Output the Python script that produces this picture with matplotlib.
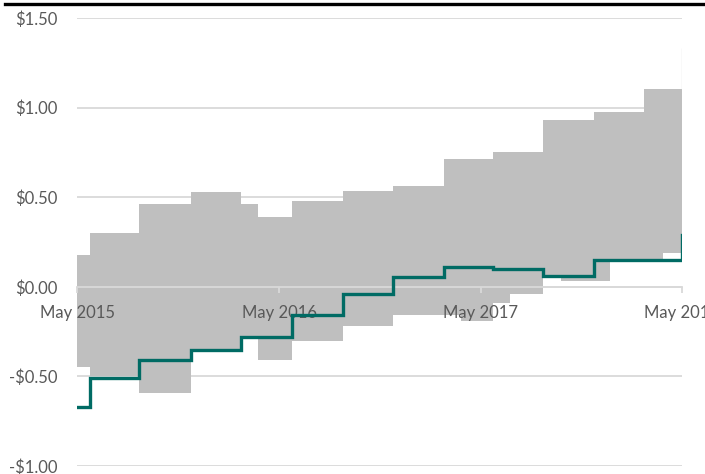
import numpy as np
import pandas as pd
import matplotlib
matplotlib.use("Agg")
import matplotlib.pyplot as plt
import matplotlib.lines as mlines
from matplotlib.ticker import FuncFormatter

## data

# reported quarterly EPS, held until the next report
eps_dates = pd.to_datetime([
    "2015-05-01", "2015-05-24", "2015-08-21", "2015-11-23", "2016-02-22",
    "2016-05-24", "2016-08-24", "2016-11-24", "2017-02-23", "2017-05-24",
    "2017-08-23", "2017-11-22", "2018-05-01",
])
eps_values = [-0.67, -0.51, -0.41, -0.35, -0.28, -0.16, -0.04, 0.055,
              0.11, 0.10, 0.06, 0.15, 0.29]

# range of estimates (low / high)
band_dates = pd.to_datetime([
    "2015-05-01", "2015-05-24", "2015-08-21", "2015-11-23", "2016-02-22",
    "2016-03-24", "2016-05-24", "2016-08-24", "2016-11-24", "2017-02-23",
    "2017-03-26", "2017-05-24", "2017-06-23", "2017-08-23", "2017-09-23",
    "2017-11-22", "2017-12-22", "2018-02-22", "2018-03-27", "2018-05-01",
])
band_high = [0.18, 0.30, 0.46, 0.53, 0.46, 0.39, 0.48, 0.535, 0.565, 0.715,
             0.715, 0.753, 0.753, 0.93, 0.93, 0.976, 0.976, 1.104, 1.104, 1.33]
band_low = [-0.45, -0.50, -0.59, -0.35, -0.28, -0.41, -0.30, -0.22, -0.155, -0.155,
            -0.19, -0.09, -0.04, 0.06, 0.033, 0.03, 0.15, 0.15, 0.19, 0.19]

tick_dates = pd.to_datetime(["2015-05-01", "2016-05-01", "2017-05-01", "2018-05-01"])
y_ticks = [-1.0, -0.5, 0.0, 0.5, 1.0, 1.5]

## plot

plt.rcParams['font.family'] = ['Lato', 'DejaVu Sans']
grey_txt = '#595959'
grid_c = '#d9d9d9'

fig = plt.figure(figsize=(7.05, 4.74), dpi=100)
ax = fig.add_axes([77/705, 8/474, 605/705, 448/474])

ax.fill_between(band_dates, band_low, band_high,
                step='post', color='#bfbfbf', lw=0, zorder=1)
# zero-width last step of the band
ax.vlines(band_dates[-1], band_high[-2], band_high[-1], color='#e3e3e3', lw=1, zorder=1)

ax.step(eps_dates, eps_values, where='post', color='#006b64', lw=2.4, zorder=3,
        solid_joinstyle='miter')

ax.set_xlim(tick_dates[0], tick_dates[-1])
ax.set_ylim(-1.0, 1.5)

ax.set_axisbelow(True)
ax.xaxis.set_zorder(2.5)
ax.yaxis.grid(True, color=grid_c, lw=1.3)
ax.set_yticks(y_ticks)
ax.yaxis.set_major_formatter(FuncFormatter(
    lambda v, p: ('-$%.2f' % abs(v)) if v < 0 else ('$%.2f' % v)))
ax.set_xticks(tick_dates)
ax.set_xticklabels([d.strftime('%b %Y') for d in tick_dates])

for s in ['top', 'right', 'left']:
    ax.spines[s].set_visible(False)
ax.spines['bottom'].set_position(('data', 0))
ax.spines['bottom'].set_color(grid_c)
ax.spines['bottom'].set_linewidth(1.3)
ax.spines['bottom'].set_zorder(2)

ax.tick_params(axis='y', length=0, pad=14, labelsize=12, labelcolor=grey_txt)
ax.tick_params(axis='x', length=4, width=1.3, color=grid_c, pad=9,
               labelsize=12, labelcolor=grey_txt)

fig.add_artist(mlines.Line2D([5/705, 1], [1 - 3.5/474, 1 - 3.5/474],
                             transform=fig.transFigure, color='black', lw=2.4))

plt.savefig('out.png', dpi=100)
